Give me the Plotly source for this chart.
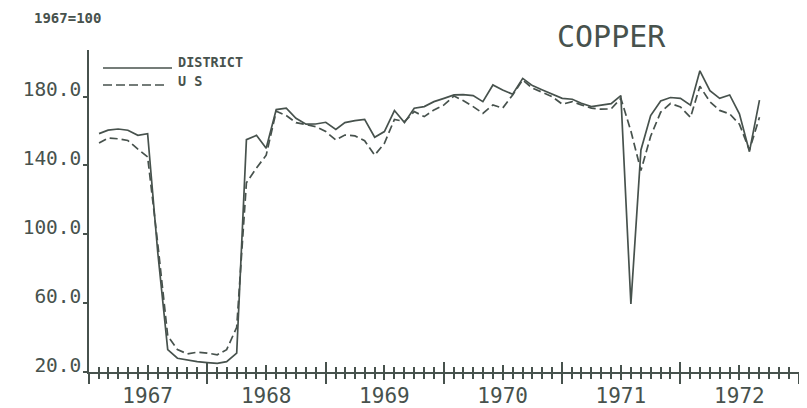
import plotly.graph_objects as go
import pandas as pd

# ---------------- data ----------------
months = pd.period_range("1967-01", "1972-08", freq="M").strftime("%Y-%m").tolist()

district = [158.5, 160.5, 161.2, 160.5, 157.5, 158.5, 90, 33, 28, 27, 26, 25.5,
            25, 26, 31, 155, 157.5, 150, 172.5, 173.3, 167.4, 164, 164.1, 165.1,
            161, 164.9, 166.1, 166.8, 156.4, 159.7, 171.9, 164.9, 173.3, 174.2, 177.1, 179,
            181, 181.2, 180.6, 177.1, 186.8, 183.9, 181.4, 190.6, 186.4, 183.9, 181.4, 179,
            178.5, 176.2, 174.2, 175.2, 175.9, 180.6, 59.5, 149, 169, 177.5, 179.5, 179,
            175, 195, 183.5, 179, 181, 170, 148, 178]

us = [153, 156, 155.5, 154.5, 149.5, 145, 95, 41, 33, 30.5, 31.5, 31,
      30, 33, 46, 130, 138.5, 146, 171.5, 169, 164.9, 163.6, 162.6, 159.7,
      154.8, 157.7, 157.2, 154.4, 146, 152.9, 166.8, 165.5, 171.3, 168.4, 172.3, 175.2,
      180.4, 177.7, 174.2, 170.3, 175.2, 173.3, 181, 189.7, 184.9, 182.5, 180, 175.6,
      177.1, 175.2, 173.3, 172.7, 172.9, 179, 160, 137, 157, 171, 176, 174,
      168, 186, 177, 172, 170, 164, 149, 168]

years = ["1967", "1968", "1969", "1970", "1971", "1972"]
y_tickvals = [20, 60, 100, 140, 180]
y_ticktext = ["20.0", "60.0", "100.0", "140.0", "180.0"]

# ---------------- style ----------------
INK = "#47524d"
FONT = "DejaVu Sans Mono"
OFF = 8                      # the page body adds an 8px margin
W, H = 807 - OFF, 408 - OFF
# plot area in page pixels
L, R, T, B = 89, 799, 50, 372


def px_x(px):
    return (px - L) / (R - L)


def px_y(py):
    return (B - py) / (B - T)


# each monthly value is drawn at the end of its month
x_pos = [(pd.Period(m, "M") + 1).to_timestamp() for m in months]
year_starts = [f"{int(y)}-01-01" for y in years] + [f"{int(years[-1]) + 1}-01-01"]
mid_years = [f"{y}-07-01" for y in years]
xr = ["1967-01-01", "1973-01-01"]

fig = go.Figure()
fig.add_trace(go.Scatter(x=x_pos, y=district, name="DISTRICT", mode="lines",
                         line=dict(color=INK, width=1.7)))
fig.add_trace(go.Scatter(x=x_pos, y=us, name="U S", mode="lines",
                         line=dict(color=INK, width=1.7, dash="8px,4px")))

common = dict(type="date", range=xr, showgrid=False, zeroline=False, automargin=False,
              tickcolor=INK, tickwidth=1.5)

fig.update_layout(
    width=W, height=H,
    margin=dict(l=L - OFF, r=W - (R - OFF), t=T - OFF, b=H - (B - OFF), pad=0,
                autoexpand=False),
    paper_bgcolor="white", plot_bgcolor="white",
    showlegend=False,
    font=dict(family=FONT, color=INK),
    xaxis=dict(**common, showline=True, linecolor=INK, linewidth=1.5,
               tickmode="array", tickvals=year_starts, ticks="outside", ticklen=10,
               showticklabels=False,
               minor=dict(ticks="outside", ticklen=5, tickmode="linear",
                          tick0="1967-01-01", dtick="M1", tickcolor=INK, tickwidth=1.5)),
    xaxis2=dict(**common, overlaying="x", anchor="y", side="bottom", showline=False,
                tickmode="array", tickvals=year_starts, ticks="inside", ticklen=10,
                showticklabels=False,
                minor=dict(ticks="inside", ticklen=5, tickmode="linear",
                           tick0="1967-01-01", dtick="M1", tickcolor=INK, tickwidth=1.5)),
    xaxis3=dict(**common, overlaying="x", anchor="y", side="bottom", showline=False,
                tickmode="array", tickvals=mid_years, ticktext=years,
                ticks="outside", ticklen=7, ticklabelstandoff=-2,
                tickfont=dict(family=FONT, size=21, color=INK)),
    xaxis4=dict(**common, overlaying="x", anchor="y", side="bottom", showline=False,
                tickmode="array", tickvals=mid_years, ticks="inside", ticklen=7,
                showticklabels=False),
    yaxis=dict(range=[20, 207.1], showgrid=False, zeroline=False, automargin=False,
               showline=True, linecolor=INK, linewidth=1.5,
               tickmode="array", tickvals=y_tickvals, ticktext=y_ticktext,
               ticks="outside", ticklen=4, tickcolor=INK, tickwidth=1.5,
               ticklabelshift=-7, ticklabelstandoff=-2,
               tickfont=dict(family=FONT, size=19.5, color=INK)),
)

# invisible traces so the overlay axes are drawn
for ax in ["x2", "x3", "x4"]:
    fig.add_trace(go.Scatter(x=[xr[0]], y=[20], xaxis=ax, yaxis="y", mode="markers",
                             marker=dict(opacity=0), hoverinfo="skip", showlegend=False))

# legend (drawn by hand to match the plotter key)
fig.add_shape(type="line", xref="paper", yref="paper",
              x0=px_x(103), x1=px_x(172), y0=px_y(68), y1=px_y(68),
              line=dict(color=INK, width=1.7))
fig.add_shape(type="line", xref="paper", yref="paper",
              x0=px_x(103), x1=px_x(166), y0=px_y(85), y1=px_y(85),
              line=dict(color=INK, width=1.7, dash="9px,4px"))
fig.add_annotation(text="DISTRICT", xref="paper", yref="paper", x=px_x(176), y=px_y(62),
                   xanchor="left", yanchor="middle", showarrow=False,
                   font=dict(family=FONT, size=13.5, color=INK, weight="bold"))
fig.add_annotation(text="U S", xref="paper", yref="paper", x=px_x(176), y=px_y(80.5),
                   xanchor="left", yanchor="middle", showarrow=False,
                   font=dict(family=FONT, size=13.5, color=INK, weight="bold"))

# titles
fig.add_annotation(text="1967=100", xref="paper", yref="paper", x=px_x(32), y=px_y(17.5),
                   xanchor="left", yanchor="middle", showarrow=False,
                   font=dict(family=FONT, size=14, color=INK, weight="bold"))
fig.add_annotation(text="COPPER", xref="paper", yref="paper", x=px_x(611), y=px_y(36.5),
                   xanchor="center", yanchor="middle", showarrow=False,
                   font=dict(family=FONT, size=30, color=INK))

fig.write_html("out.html")
